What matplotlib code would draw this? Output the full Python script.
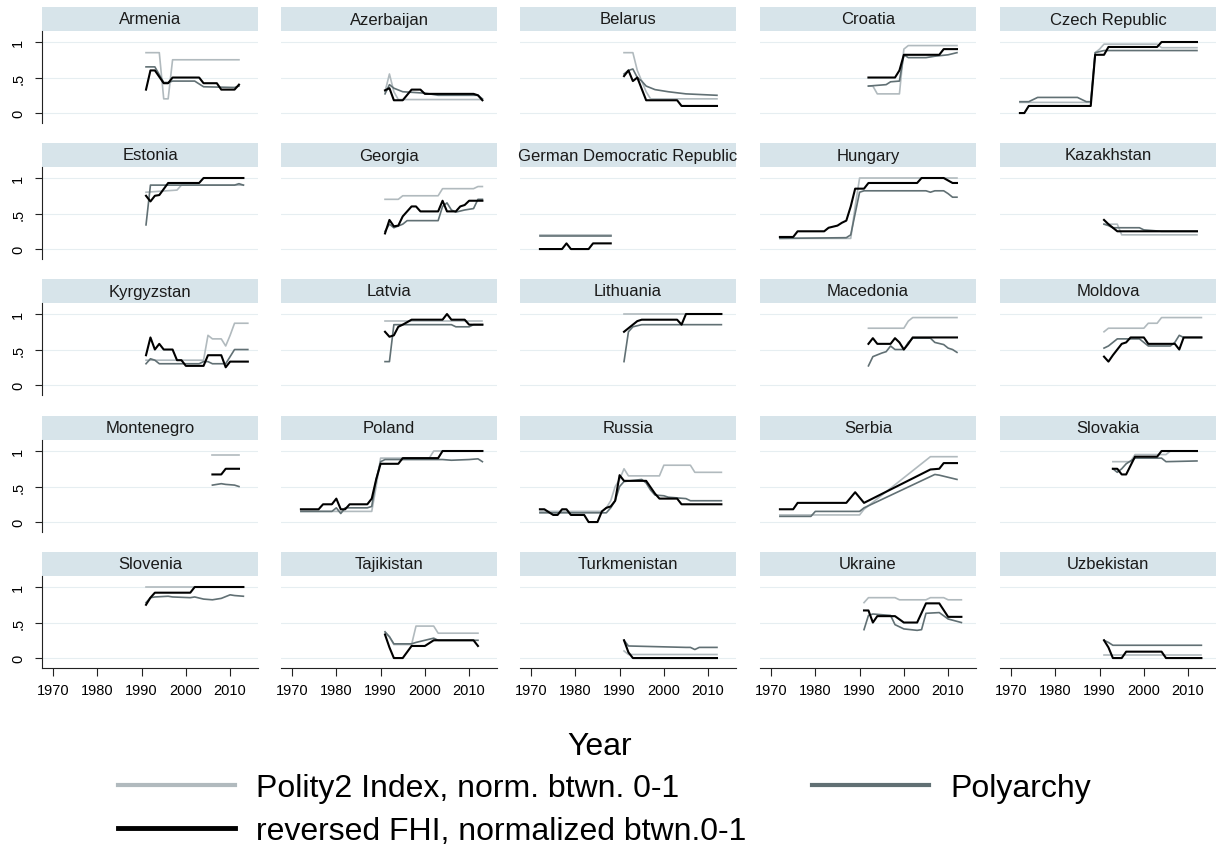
import matplotlib
matplotlib.use("Agg")
import matplotlib.pyplot as plt
from matplotlib.patches import Rectangle
from matplotlib.lines import Line2D

plt.rcParams['font.family'] = ['Liberation Sans', 'DejaVu Sans']

countries = ["Armenia", "Azerbaijan", "Belarus", "Croatia", "Czech Republic",
             "Estonia", "Georgia", "German Democratic Republic", "Hungary", "Kazakhstan",
             "Kyrgyzstan", "Latvia", "Lithuania", "Macedonia", "Moldova",
             "Montenegro", "Poland", "Russia", "Serbia", "Slovakia",
             "Slovenia", "Tajikistan", "Turkmenistan", "Ukraine", "Uzbekistan"]

# (year, value) points
polity = {
    "Armenia": [(1991, .85), (1994, .85), (1995, .2), (1996, .2), (1997, .75), (2012, .75)],
    "Azerbaijan": [(1991, .3), (1992, .55), (1993, .3), (1994, .19), (2013, .19)],
    "Belarus": [(1991, .85), (1993, .85), (1994, .6), (1995, .45), (1996, .3), (1997, .2), (2012, .2)],
    "Croatia": [(1992, .38), (1993, .38), (1994, .27), (1999, .27), (2000, .9), (2001, .95), (2012, .95)],
    "Czech Republic": [(1972, .15), (1988, .15), (1989, .85), (1990, .9), (1991, .97), (2003, .97), (2004, .92), (2012, .92)],
    "Estonia": [(1991, .8), (1998, .83), (1999, .9), (2013, .9)],
    "Georgia": [(1991, .7), (1994, .7), (1995, .75), (2003, .75), (2004, .85), (2011, .85), (2012, .88), (2013, .88)],
    "German Democratic Republic": [(1972, .2), (1988, .2)],
    "Hungary": [(1972, .15), (1988, .15), (1989, .6), (1990, 1.0), (2012, 1.0)],
    "Kazakhstan": [(1991, .35), (1994, .35), (1995, .2), (2012, .2)],
    "Kyrgyzstan": [(1991, .35), (2004, .35), (2005, .7), (2006, .65), (2008, .65), (2009, .55), (2010, .7), (2011, .87), (2014, .87)],
    "Latvia": [(1991, .9), (2013, .9)],
    "Lithuania": [(1991, 1.0), (2013, 1.0)],
    "Macedonia": [(1992, .8), (2000, .8), (2001, .9), (2002, .95), (2012, .95)],
    "Moldova": [(1991, .75), (1992, .8), (2000, .8), (2001, .87), (2003, .87), (2004, .95), (2013, .95)],
    "Montenegro": [(2006, .95), (2012, .95)],
    "Poland": [(1972, .15), (1988, .15), (1989, .5), (1990, .9), (2001, .9), (2002, 1.0), (2013, 1.0)],
    "Russia": [(1972, .15), (1986, .15), (1987, .2), (1988, .3), (1989, .5), (1990, .6), (1991, .75), (1992, .65),
               (1999, .65), (2000, .8), (2006, .8), (2007, .7), (2013, .7)],
    "Serbia": [(1972, .1), (1990, .1), (1991, .18), (2006, .92), (2012, .92)],
    "Slovakia": [(1993, .85), (1997, .85), (1998, .95), (2005, .95), (2006, 1.0), (2012, 1.0)],
    "Slovenia": [(1991, 1.0), (2013, 1.0)],
    "Tajikistan": [(1991, .35), (1992, .3), (1993, .19), (1997, .19), (1998, .45), (2002, .45), (2003, .35), (2012, .35)],
    "Turkmenistan": [(1991, .1), (1992, .05), (2012, .05)],
    "Ukraine": [(1991, .78), (1992, .85), (1998, .85), (1999, .82), (2005, .82), (2006, .85), (2009, .85), (2010, .82), (2013, .82)],
    "Uzbekistan": [(1991, .05), (2013, .05)],
}

polyarchy = {
    "Armenia": [(1991, .65), (1993, .65), (1995, .43), (1996, .43), (1997, .45), (2002, .45), (2004, .37), (2011, .36), (2012, .38)],
    "Azerbaijan": [(1991, .27), (1992, .4), (1993, .35), (1995, .3), (2000, .28), (2003, .25), (2012, .25), (2013, .2)],
    "Belarus": [(1991, .55), (1992, .6), (1993, .62), (1994, .5), (1995, .45), (1996, .38), (1998, .33), (2001, .3), (2005, .27), (2012, .25)],
    "Croatia": [(1992, .38), (1996, .4), (1997, .44), (1999, .45), (2000, .82), (2001, .78), (2005, .78), (2007, .8), (2010, .82), (2012, .85)],
    "Czech Republic": [(1972, .16), (1974, .16), (1976, .22), (1985, .22), (1987, .16), (1988, .16), (1989, .85), (1991, .88), (2012, .88)],
    "Estonia": [(1991, .34), (1992, .9), (2011, .9), (2012, .92), (2013, .9)],
    "Georgia": [(1991, .25), (1992, .35), (1993, .3), (1995, .35), (1996, .4), (2003, .4), (2004, .6), (2005, .65), (2006, .55),
                (2007, .52), (2009, .55), (2011, .57), (2012, .7), (2013, .7)],
    "German Democratic Republic": [(1972, .19), (1988, .19)],
    "Hungary": [(1972, .15), (1987, .16), (1988, .2), (1989, .5), (1990, .8), (1991, .82), (2005, .82), (2006, .8), (2007, .82),
                (2009, .82), (2010, .78), (2011, .73), (2012, .73)],
    "Kazakhstan": [(1991, .35), (1992, .33), (1993, .3), (1999, .3), (2000, .27), (2004, .25), (2012, .25)],
    "Kyrgyzstan": [(1991, .3), (1992, .37), (1993, .35), (1994, .3), (2003, .3), (2004, .33), (2005, .33), (2006, .3), (2009, .3),
                   (2010, .4), (2011, .5), (2014, .5)],
    "Latvia": [(1991, .33), (1992, .33), (1993, .85), (2006, .85), (2007, .82), (2010, .82), (2011, .85), (2013, .85)],
    "Lithuania": [(1991, .33), (1992, .75), (1993, .82), (1995, .85), (2013, .85)],
    "Macedonia": [(1992, .27), (1993, .4), (1995, .45), (1996, .47), (1997, .55), (1998, .5), (2000, .5), (2001, .6), (2002, .66),
                  (2006, .66), (2007, .6), (2009, .57), (2010, .52), (2011, .5), (2012, .46)],
    "Moldova": [(1991, .52), (1992, .55), (1993, .6), (1994, .65), (1999, .65), (2000, .6), (2001, .55), (2006, .55), (2007, .6),
                (2008, .7), (2009, .67), (2013, .67)],
    "Montenegro": [(2006, .52), (2007, .53), (2008, .54), (2009, .53), (2011, .52), (2012, .5)],
    "Poland": [(1972, .15), (1979, .15), (1980, .2), (1981, .12), (1982, .2), (1987, .2), (1988, .22), (1989, .6), (1990, .85),
               (1991, .88), (2004, .88), (2006, .87), (2010, .88), (2012, .89), (2013, .85)],
    "Russia": [(1972, .13), (1987, .13), (1988, .2), (1989, .3), (1990, .5), (1991, .57), (1995, .6), (1996, .55), (1997, .45),
               (1998, .38), (2000, .37), (2001, .35), (2005, .33), (2006, .3), (2013, .3)],
    "Serbia": [(1972, .08), (1979, .08), (1980, .15), (1990, .15), (1991, .2), (2007, .67), (2008, .66), (2012, .6)],
    "Slovakia": [(1993, .75), (1994, .7), (1995, .75), (1996, .82), (1998, .9), (2004, .9), (2005, .85), (2012, .86)],
    "Slovenia": [(1991, .78), (1992, .85), (1993, .86), (1996, .87), (1997, .86), (2001, .85), (2002, .86), (2004, .83), (2006, .82),
                 (2008, .84), (2010, .89), (2011, .88), (2013, .87)],
    "Tajikistan": [(1991, .37), (1992, .3), (1993, .2), (1997, .2), (1998, .22), (2000, .25), (2002, .28), (2003, .25), (2012, .25)],
    "Turkmenistan": [(1991, .25), (1992, .17), (2005, .15), (2006, .15), (2007, .12), (2008, .15), (2012, .15)],
    "Ukraine": [(1991, .4), (1992, .6), (1993, .62), (1997, .6), (1998, .47), (2000, .41), (2003, .39), (2004, .4), (2005, .63),
                (2008, .64), (2010, .55), (2013, .5)],
    "Uzbekistan": [(1991, .25), (1992, .22), (1993, .18), (2013, .18)],
}

fhi = {
    "Armenia": [(1991, .33), (1992, .6), (1993, .6), (1995, .42), (1996, .42), (1997, .5), (2003, .5), (2004, .42), (2007, .42),
                (2008, .33), (2011, .33), (2012, .4)],
    "Azerbaijan": [(1991, .32), (1992, .35), (1993, .18), (1995, .18), (1997, .33), (1999, .33), (2000, .27), (2011, .27), (2012, .25),
                   (2013, .18)],
    "Belarus": [(1991, .52), (1992, .6), (1993, .45), (1994, .5), (1996, .18), (2003, .18), (2004, .1), (2012, .1)],
    "Croatia": [(1992, .5), (1998, .5), (1999, .6), (2000, .82), (2008, .82), (2009, .9), (2012, .9)],
    "Czech Republic": [(1972, 0), (1973, 0), (1974, .1), (1988, .1), (1989, .82), (1991, .82), (1992, .93), (2003, .93), (2004, 1.0),
                       (2012, 1.0)],
    "Estonia": [(1991, .75), (1992, .67), (1993, .75), (1994, .76), (1996, .93), (2003, .93), (2004, 1.0), (2013, 1.0)],
    "Georgia": [(1991, .22), (1992, .41), (1993, .32), (1994, .33), (1995, .46), (1997, .6), (1998, .6), (1999, .53), (2003, .53),
                (2004, .68), (2005, .53), (2007, .53), (2008, .6), (2009, .62), (2010, .68), (2013, .68)],
    "German Democratic Republic": [(1972, 0), (1977, 0), (1978, .08), (1979, 0), (1983, 0), (1984, .08), (1988, .08)],
    "Hungary": [(1972, .17), (1975, .17), (1976, .25), (1982, .25), (1983, .3), (1985, .33), (1986, .37), (1987, .4), (1988, .6),
                (1989, .85), (1991, .85), (1992, .93), (2003, .93), (2004, 1.0), (2009, 1.0), (2011, .93), (2012, .93)],
    "Kazakhstan": [(1991, .41), (1992, .35), (1993, .3), (1994, .25), (2012, .25)],
    "Kyrgyzstan": [(1991, .42), (1992, .67), (1993, .5), (1994, .58), (1995, .5), (1997, .5), (1998, .35), (1999, .35), (2000, .27),
                   (2004, .27), (2005, .42), (2008, .42), (2009, .25), (2010, .33), (2014, .33)],
    "Latvia": [(1991, .75), (1992, .68), (1993, .7), (1994, .82), (1995, .85), (1997, .92), (2004, .92), (2005, 1.0), (2006, .92),
               (2009, .92), (2010, .85), (2013, .85)],
    "Lithuania": [(1991, .75), (1992, .8), (1993, .85), (1994, .9), (1995, .92), (2003, .92), (2004, .85), (2005, 1.0), (2013, 1.0)],
    "Macedonia": [(1992, .58), (1993, .66), (1994, .58), (1997, .58), (1998, .66), (1999, .6), (2000, .5), (2001, .58), (2002, .67),
                  (2012, .67)],
    "Moldova": [(1991, .4), (1992, .33), (1993, .42), (1994, .5), (1995, .58), (1996, .6), (1997, .67), (2000, .67), (2001, .58),
                (2007, .58), (2008, .5), (2009, .67), (2013, .67)],
    "Montenegro": [(2006, .67), (2008, .67), (2009, .75), (2012, .75)],
    "Poland": [(1972, .18), (1976, .18), (1977, .25), (1979, .25), (1980, .33), (1981, .18), (1982, .18), (1983, .25), (1987, .25),
               (1988, .33), (1989, .6), (1990, .82), (1994, .82), (1995, .9), (2003, .9), (2004, 1.0), (2013, 1.0)],
    "Russia": [(1972, .18), (1973, .18), (1975, .1), (1976, .1), (1977, .18), (1978, .18), (1979, .1), (1982, .1), (1983, 0), (1985, 0),
               (1986, .15), (1987, .2), (1988, .22), (1989, .3), (1990, .66), (1991, .58), (1996, .58), (1998, .4), (1999, .33),
               (2003, .33), (2004, .25), (2013, .25)],
    "Serbia": [(1972, .18), (1975, .18), (1976, .27), (1987, .27), (1989, .42), (1991, .27), (2006, .74), (2008, .75), (2009, .83),
               (2012, .83)],
    "Slovakia": [(1993, .75), (1994, .75), (1995, .67), (1996, .67), (1998, .92), (2003, .92), (2004, 1.0), (2012, 1.0)],
    "Slovenia": [(1991, .75), (1992, .85), (1993, .92), (2001, .92), (2002, 1.0), (2013, 1.0)],
    "Tajikistan": [(1991, .33), (1992, .15), (1993, 0), (1995, 0), (1997, .17), (2000, .17), (2002, .25), (2011, .25), (2012, .17)],
    "Turkmenistan": [(1991, .25), (1992, .08), (1993, 0), (2012, 0)],
    "Ukraine": [(1991, .67), (1992, .67), (1993, .5), (1994, .59), (1998, .59), (2000, .5), (2003, .5), (2005, .77), (2008, .77),
                (2010, .58), (2013, .58)],
    "Uzbekistan": [(1991, .25), (1992, .15), (1993, 0), (1995, 0), (1996, .09), (2004, .09), (2005, 0), (2013, 0)],
}

year_ticks = [1970, 1980, 1990, 2000, 2010]
value_ticks = [0, 0.5, 1]
value_labels = ["0", ".5", "1"]

series = [
    (polity, "Polity2 Index, norm. btwn. 0-1", "#b1babe", 1.2),
    (polyarchy, "Polyarchy", "#617074", 1.2),
    (fhi, "reversed FHI, normalized btwn.0-1", "black", 1.5),
]

W, H = 1216, 845
col_left = [42, 281, 520, 760, 1000]
row_top = [32, 168, 304, 441, 577]
pw, ph = 216, 92
strip_h = 24

fig = plt.figure(figsize=(W / 100, H / 100), dpi=100)
fig.patch.set_facecolor("white")

for i, name in enumerate(countries):
    r, c = divmod(i, 5)
    ax = fig.add_axes([col_left[c] / W, 1 - (row_top[r] + ph) / H, pw / W, ph / H])
    for data, label, color, lw in series:
        pts = data[name]
        ax.plot([p[0] for p in pts], [p[1] for p in pts], color=color, lw=lw, solid_joinstyle="round")

    ax.set_xlim(1967.5, 2016.3)
    ax.set_ylim(-0.14, 1.155)
    ax.set_yticks(value_ticks)
    ax.set_xticks(year_ticks)
    ax.grid(axis="y", color="#e6eef1", lw=0.8)
    ax.grid(axis="x", visible=False)
    ax.set_axisbelow(True)
    for s in ax.spines.values():
        s.set_visible(False)

    if c == 0:
        ax.spines["left"].set_visible(True)
        ax.spines["left"].set_color("#222222")
        ax.set_yticklabels(value_labels)
        ax.tick_params(axis="y", length=5, pad=7, labelsize=10.5, labelrotation=90, color="#222222")
        for t in ax.get_yticklabels():
            t.set_va("center")
    else:
        ax.tick_params(axis="y", left=False, labelleft=False)

    if r == 4:
        ax.spines["bottom"].set_visible(True)
        ax.spines["bottom"].set_color("#222222")
        ax.tick_params(axis="x", length=6, pad=5, labelsize=10.5, color="#222222")
    else:
        ax.tick_params(axis="x", bottom=False, labelbottom=False)

    # Stata-style title strip above the panel
    ax.add_patch(Rectangle((0, 1), 1, strip_h / ph, transform=ax.transAxes, clip_on=False,
                           facecolor="#d7e4ea", edgecolor="none"))
    ax.text(0.5, 1 + strip_h / ph / 2, name, transform=ax.transAxes, ha="center", va="center",
            fontsize=12, color="#1a1a1a")

fig.text(600 / W, 1 - 747 / H, "Year", ha="center", va="center", fontsize=23)

handles = [Line2D([], [], color=series[0][2], lw=3),
           Line2D([], [], color=series[2][2], lw=3.5),
           Line2D([], [], color=series[1][2], lw=3)]
labels = [series[0][1], series[2][1], series[1][1]]
fig.legend(handles, labels, loc="upper left", bbox_to_anchor=(118 / W, 1 - 774 / H), ncol=2,
           frameon=False, fontsize=23, handlelength=3.66, handletextpad=0.66, columnspacing=2.06,
           labelspacing=0.42, borderpad=0, borderaxespad=0)

fig.savefig("out.png", dpi=100, facecolor="white")
